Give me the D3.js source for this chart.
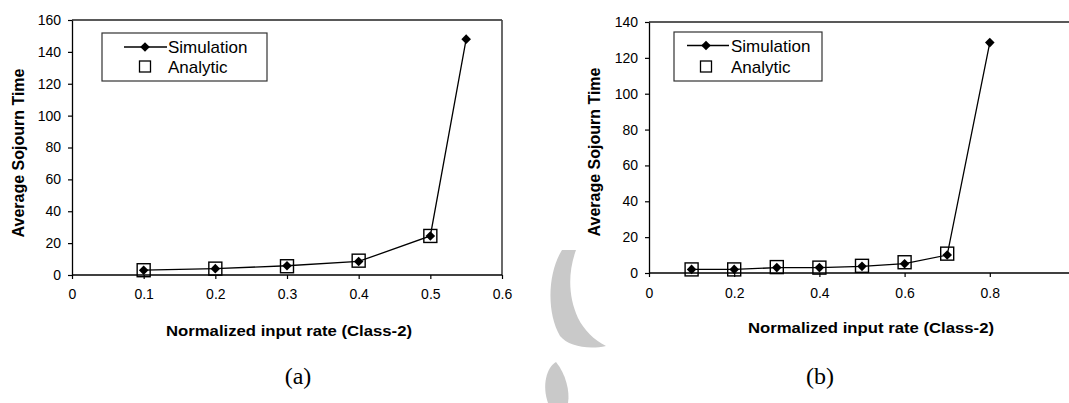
<!DOCTYPE html>
<html lang="en">
<head>
	<meta charset="utf-8">
	<script src="https://d3js.org/d3.v7.min.js"></script>
	<style type="text/css">
		body {
			margin: 0;
			background: #fff;
		}
		text {
			font-family: "Liberation Sans", Arial, sans-serif;
			fill: #000;
		}
	</style>
</head>
<body>
	<script type="text/javascript">

	// chart (a)
	var rateA = [0.1, 0.2, 0.3, 0.4, 0.5, 0.55];
	var simA = [3, 4, 5.8, 8.5, 24.5, 148];
	var anaRateA = [0.1, 0.2, 0.3, 0.4, 0.5];
	var anaA = [3, 4, 5.5, 9, 24.5];
	var xTicksA = [0, 0.1, 0.2, 0.3, 0.4, 0.5, 0.6];
	var yTicksA = [0, 20, 40, 60, 80, 100, 120, 140, 160];

	// chart (b)
	var rateB = [0.1, 0.2, 0.3, 0.4, 0.5, 0.6, 0.7, 0.8];
	var simB = [2, 2, 3, 3, 3.7, 5.2, 10, 128.5];
	var anaRateB = [0.1, 0.2, 0.3, 0.4, 0.5, 0.6, 0.7];
	var anaB = [2, 2, 3.3, 3, 4, 6, 10.8];
	var xTicksB = [0, 0.2, 0.4, 0.6, 0.8];
	var yTicksB = [0, 20, 40, 60, 80, 100, 120, 140];

	var legendText = ["Simulation", "Analytic"];
	var xTitle = "Normalized input rate (Class-2)";
	var yTitle = "Average Sojourn Time";

	var width = 1069;
	var height = 403;

	var svg = d3.select("body")
				.append("svg")
				.attr("width", width)
				.attr("height", height);

	// gray watermark in the background
	var wm = svg.append("g").attr("fill", "#c9c9c9");
	wm.append("path")
		.attr("d", "M562,250 C548,272 546,312 560,336 C568,346 588,350 606,346 C594,340 584,330 578,318 C568,296 568,272 576,250 Z");
	wm.append("path")
		.attr("d", "M548,403 C542,386 546,368 556,362 C566,374 570,392 568,403 Z");

	var diamond = "M0,-4.8L4.8,0L0,4.8L-4.8,0Z";

	function drawChart(c) {
		var x = d3.scaleLinear().domain(c.xDomain).range([c.left, c.right]);
		var y = d3.scaleLinear().domain(c.yDomain).range([c.bottom, c.top]);

		var g = svg.append("g");

		// frame
		g.append("line")
			.attr("x1", c.left).attr("x2", Math.min(c.right, width))
			.attr("y1", c.top).attr("y2", c.top)
			.style("stroke", "#222").style("stroke-width", 1.3);
		if (c.right < width) {
			g.append("line")
				.attr("x1", c.right).attr("x2", c.right)
				.attr("y1", c.top).attr("y2", c.bottom)
				.style("stroke", "#444").style("stroke-width", 1.6);
		}

		var xAxis = g.append("g")
			.attr("transform", "translate(0," + c.bottom + ")")
			.call(d3.axisBottom(x).tickValues(c.xTicks).tickSize(4).tickSizeOuter(0)
				.tickFormat(function(d) { return d === 0 ? "0" : d3.format("")(d); }));
		xAxis.select(".domain").attr("d", "M" + c.left + ",0H" + c.right);
		xAxis.selectAll("text").attr("dy", null).attr("y", c.xLabelY)
			.style("font-size", "14px").style("font-family", "Liberation Sans, Arial, sans-serif");

		var yAxis = g.append("g")
			.attr("transform", "translate(" + c.left + ",0)")
			.call(d3.axisLeft(y).tickValues(c.yTicks).tickSize(4).tickSizeOuter(0));
		yAxis.selectAll("text").attr("x", -11)
			.style("font-size", "14px").style("font-family", "Liberation Sans, Arial, sans-serif");

		g.selectAll(".domain").style("stroke", "#000").style("stroke-width", 1.3);
		g.selectAll(".tick line").style("stroke", "#000").style("stroke-width", 1.2);

		// simulation line and markers
		var pts = c.rate.map(function(r, i) { return [r, c.sim[i]]; });
		var line = d3.line()
			.x(function(d) { return x(d[0]); })
			.y(function(d) { return y(d[1]); });

		g.append("path")
			.datum(pts)
			.attr("d", line)
			.style("fill", "none")
			.style("stroke", "#000")
			.style("stroke-width", 1.3);

		g.selectAll(".sim")
			.data(pts)
			.enter()
			.append("path")
			.attr("class", "sim")
			.attr("d", diamond)
			.attr("transform", function(d) { return "translate(" + x(d[0]) + "," + y(d[1]) + ")"; })
			.style("fill", "#000");

		// analytic squares
		var apts = c.anaRate.map(function(r, i) { return [r, c.ana[i]]; });
		g.selectAll(".ana")
			.data(apts)
			.enter()
			.append("rect")
			.attr("class", "ana")
			.attr("x", function(d) { return x(d[0]) - 6.5; })
			.attr("y", function(d) { return y(d[1]) - 6.5; })
			.attr("width", 13)
			.attr("height", 13)
			.style("fill", "none")
			.style("stroke", "#000")
			.style("stroke-width", 1.4);

		// legend
		var L = c.legend;
		g.append("rect")
			.attr("x", L.x).attr("y", L.y)
			.attr("width", L.w).attr("height", L.h)
			.style("fill", "#fff").style("stroke", "#333").style("stroke-width", 1.2);
		g.append("line")
			.attr("x1", L.lineX1).attr("x2", L.lineX2)
			.attr("y1", L.row1).attr("y2", L.row1)
			.style("stroke", "#000").style("stroke-width", 1.3);
		g.append("path")
			.attr("d", diamond)
			.attr("transform", "translate(" + L.markX + "," + L.row1 + ")")
			.style("fill", "#000");
		g.append("rect")
			.attr("x", L.markX - 5.5).attr("y", L.row2 - 5.5)
			.attr("width", 11).attr("height", 11)
			.style("fill", "none").style("stroke", "#000").style("stroke-width", 1.3);
		g.selectAll(".legtext")
			.data(legendText)
			.enter()
			.append("text")
			.attr("class", "legtext")
			.attr("x", L.textX)
			.attr("y", function(d, i) { return (i === 0 ? L.row1 : L.row2) + 6; })
			.style("font-size", "17px")
			.text(function(d) { return d; });

		// titles
		g.append("text")
			.attr("transform", "translate(" + c.yTitleX + "," + c.yTitleY + ") rotate(-90)")
			.attr("text-anchor", "middle")
			.attr("dy", "0.35em")
			.style("font-size", "16px")
			.style("font-weight", "bold")
			.text(yTitle);

		g.append("text")
			.attr("x", c.xTitleX)
			.attr("y", c.xTitleY)
			.attr("text-anchor", "middle")
			.attr("textLength", 246)
			.attr("lengthAdjust", "spacingAndGlyphs")
			.style("font-size", "15px")
			.style("font-weight", "bold")
			.text(xTitle);

		g.append("text")
			.attr("x", c.capX)
			.attr("y", 384)
			.attr("text-anchor", "middle")
			.style("font-family", "Liberation Serif, Times New Roman, serif")
			.style("font-size", "24px")
			.text(c.caption);
	}

	drawChart({
		rate: rateA, sim: simA, anaRate: anaRateA, ana: anaA,
		xDomain: [0, 0.6], yDomain: [0, 160],
		xTicks: xTicksA, yTicks: yTicksA,
		left: 72, right: 502, top: 20, bottom: 275,
		xLabelY: 24,
		legend: { x: 102, y: 33, w: 165, h: 48, lineX1: 124, lineX2: 167, markX: 145, row1: 47, row2: 66.5, textX: 168 },
		yTitleX: 18, yTitleY: 153,
		xTitleX: 289, xTitleY: 336,
		capX: 298, caption: "(a)"
	});

	drawChart({
		rate: rateB, sim: simB, anaRate: anaRateB, ana: anaB,
		xDomain: [0, 1], yDomain: [0, 140],
		xTicks: xTicksB, yTicks: yTicksB,
		left: 649, right: 1075, top: 22, bottom: 273,
		xLabelY: 25,
		legend: { x: 674, y: 32, w: 148, h: 49, lineX1: 687, lineX2: 729, markX: 706, row1: 45.5, row2: 66.5, textX: 731 },
		yTitleX: 594, yTitleY: 152,
		xTitleX: 871, xTitleY: 333,
		capX: 820, caption: "(b)"
	});
	</script>
</body>
</html>
